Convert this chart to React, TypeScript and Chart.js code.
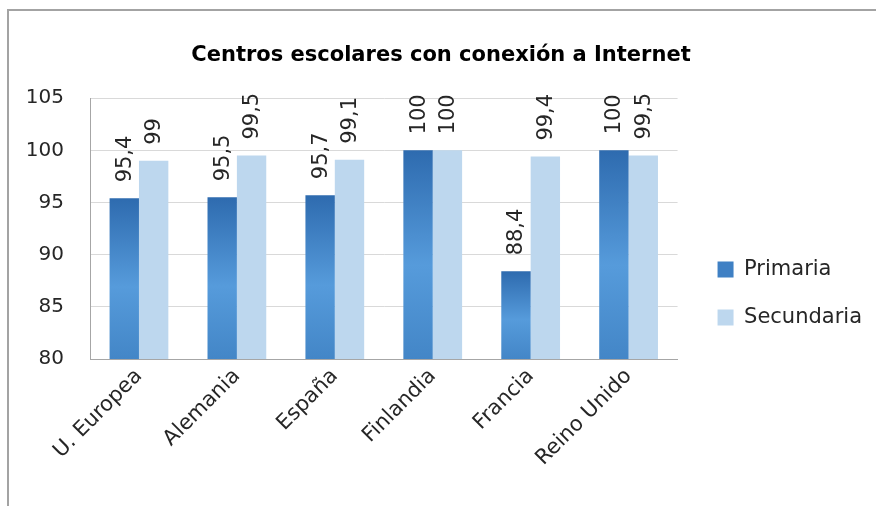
import React, { useEffect, useRef } from 'react';
import { Chart, registerables } from 'chart.js';

Chart.register(...registerables);

const categories = ['U. Europea', 'Alemania', 'España', 'Finlandia', 'Francia', 'Reino Unido'];
const primaria = [95.4, 95.5, 95.7, 100, 88.4, 100];
const secundaria = [99, 99.5, 99.1, 100, 99.4, 99.5];
const yMin = 80;
const yMax = 105;
const yStep = 5;

const FONT = '"DejaVu Sans", sans-serif';
const TEXT = '#262626';

const fmt = (v: number) => String(v).replace('.', ',');

const primariaFill = (ctx: any) => {
  const chart = ctx.chart;
  const scales = chart.scales;
  if (!chart.chartArea || ctx.type !== 'data' || !scales || !scales.y) return '#4A8CCC';
  const top = scales.y.getPixelForValue(ctx.raw);
  const bottom = scales.y.getPixelForValue(yMin);
  if (!isFinite(top) || !isFinite(bottom) || bottom - top < 1) return '#4A8CCC';
  const g = chart.ctx.createLinearGradient(0, top, 0, bottom);
  g.addColorStop(0, '#2E6BAF');
  g.addColorStop(0.55, '#569BDB');
  g.addColorStop(1, '#4386C7');
  return g;
};

const valueLabels = {
  id: 'valueLabels',
  afterDatasetsDraw(chart: any) {
    const c = chart.ctx;
    c.save();
    c.font = `21px ${FONT}`;
    c.fillStyle = TEXT;
    c.textAlign = 'left';
    c.textBaseline = 'middle';
    chart.data.datasets.forEach((ds: any, i: number) => {
      const meta = chart.getDatasetMeta(i);
      meta.data.forEach((bar: any, j: number) => {
        c.save();
        c.translate(bar.x + 1, bar.y - 16);
        c.rotate(-Math.PI / 2);
        c.fillText(fmt(ds.data[j]), 0, 0);
        c.restore();
      });
    });
    c.restore();
  },
};

export default function App() {
  const ref = useRef<HTMLCanvasElement | null>(null);

  useEffect(() => {
    document.body.style.margin = '0';
    const canvas = ref.current;
    if (!canvas) return;
    const chart = new Chart(canvas, {
      type: 'bar',
      data: {
        labels: categories,
        datasets: [
          {
            label: 'Primaria',
            data: primaria,
            backgroundColor: primariaFill,
            borderWidth: 0,
            categoryPercentage: 0.6,
            barPercentage: 1,
          },
          {
            label: 'Secundaria',
            data: secundaria,
            backgroundColor: '#BDD7EE',
            borderWidth: 0,
            categoryPercentage: 0.6,
            barPercentage: 1,
          },
        ],
      },
      options: {
        animation: false,
        responsive: false,
        devicePixelRatio: 1,
        layout: { padding: { left: 10, right: 4, top: 0, bottom: 0 } },
        plugins: {
          title: {
            display: true,
            text: 'Centros escolares con conexión a Internet',
            color: '#000',
            font: { family: FONT, size: 21, weight: 'bold' },
            padding: { top: 43, bottom: 30 },
          },
          legend: {
            position: 'right',
            maxWidth: 220,
            title: {
              display: true,
              text: ' ',
              font: { family: FONT, size: 10 },
              padding: { top: 0, bottom: 69 },
            },
            labels: {
              boxWidth: 16,
              boxHeight: 16,
              padding: 27,
              color: TEXT,
              font: { family: FONT, size: 21 },
              generateLabels: (ch: any) => {
                const items = (Chart.defaults as any).plugins.legend.labels.generateLabels(ch);
                const fills = ['#3F80C4', '#BDD7EE'];
                items.forEach((it: any, k: number) => {
                  it.fillStyle = fills[k];
                  it.strokeStyle = fills[k];
                  it.lineWidth = 0;
                });
                return items;
              },
            },
          },
          tooltip: { enabled: false },
        },
        scales: {
          x: {
            grid: { display: false, drawTicks: false },
            border: { color: '#a6a6a6', width: 1 },
            ticks: {
              color: TEXT,
              font: { family: FONT, size: 21 },
              minRotation: 45,
              maxRotation: 45,
              padding: 5,
            },
            afterFit: (s: any) => {
              s.height = 147;
            },
          },
          y: {
            min: yMin,
            max: yMax,
            grid: { color: '#d9d9d9', drawTicks: false },
            border: { color: '#a6a6a6', width: 1 },
            ticks: {
              stepSize: yStep,
              color: TEXT,
              font: { family: FONT, size: 20 },
              padding: 26,
            },
            afterFit: (s: any) => {
              s.width = 80;
            },
          },
          gap: {
            type: 'linear',
            position: 'right',
            display: true,
            grid: { display: false, drawTicks: false },
            border: { display: false },
            ticks: { display: false },
            afterFit: (s: any) => {
              s.width = 13;
            },
          },
        },
      },
      plugins: [valueLabels],
    });
    return () => chart.destroy();
  }, []);

  return (
    <div style={{ position: 'fixed', left: 0, top: 0, width: 876, height: 506, background: '#fff', overflow: 'hidden' }}>
      <div
        style={{
          position: 'absolute',
          left: 7,
          top: 9,
          width: 900,
          height: 520,
          borderTop: '2px solid #a3a3a3',
          borderLeft: '2px solid #a3a3a3',
          boxSizing: 'border-box',
        }}
      />
      <canvas ref={ref} width={876} height={506} style={{ position: 'absolute', left: 0, top: 0 }} />
    </div>
  );
}
